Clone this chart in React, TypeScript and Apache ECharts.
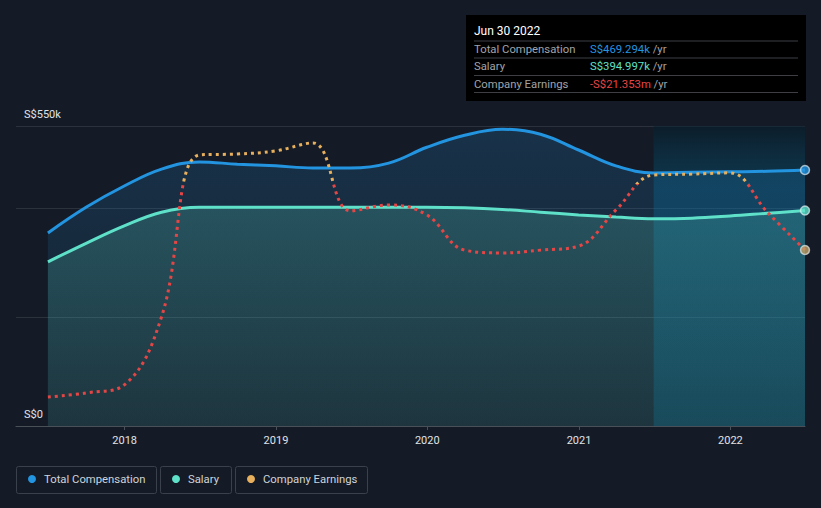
import React, { useEffect, useRef } from 'react';
import * as echarts from 'echarts';

const dates = ['2017-06-30','2017-09-30','2017-12-31','2018-03-31','2018-06-30','2018-09-30','2018-12-31','2019-03-31','2019-06-30','2019-09-30','2019-12-31','2020-03-31','2020-06-30','2020-09-30','2020-12-31','2021-03-31','2021-06-30','2021-09-30','2021-12-31','2022-03-31','2022-06-30'];
const totalComp = [354, 401, 440, 471, 484, 480, 477, 473, 473, 482, 511, 533, 544, 535, 506, 477, 464, 465, 466, 467, 469.294];
const salary = [301, 335, 367, 392, 401, 401, 401, 401, 401, 401, 401, 400, 397, 392, 387, 383, 380, 381, 385, 390, 394.997];
const earnings = [-68.9, -67.6, -65.0, -43.0, 9.4, 9.7, 10.7, 13.3, -8.7, -6.8, -10.0, -21.4, -22.3, -21.4, -20.1, -8.4, 2.9, 3.2, 3.6, -9.1, -21.353];
const yearTicks = [2018, 2019, 2020, 2021, 2022];
const yTickLabels: Record<number, string> = { 0: 'S$0', 550: 'S$550k' };
const legendNames = ['Total Compensation', 'Salary', 'Company Earnings'];
const tooltipDate = 'Jun 30 2022';
const tooltipRows = [
  { label: 'Total Compensation', value: 'S$469.294k' },
  { label: 'Salary', value: 'S$394.997k' },
  { label: 'Company Earnings', value: '-S$21.353m' },
];
const highlightStart = '2021-06-30';
const highlightEnd = '2022-06-30';

const BG = '#151b26';
const BLUE = '#2394e0';
const TEAL = '#5ee0c9';
const YELLOW = '#e8b05c';
const RED = '#e64545';
const FONT = 'Roboto, "Open Sans", sans-serif';

const ts = (d: string) => {
  const [y, m, dd] = d.split('-').map(Number);
  return Date.UTC(y, m - 1, dd);
};

export default function App() {
  const ref = useRef<HTMLDivElement>(null);
  useEffect(() => {
    document.body.style.margin = '0';
    document.body.style.background = BG;
    const chart = echarts.init(ref.current!, undefined, { renderer: 'svg' });
    const tcData = dates.map((d, i) => [ts(d), totalComp[i]]);
    const salData = dates.map((d, i) => [ts(d), salary[i]]);
    const earnData = dates.map((d, i) => [ts(d), earnings[i]]);
    const last = dates.length - 1;

    const legendColors = [BLUE, TEAL, YELLOW];
    const legendBoxes = [
      { x: 16, w: 140 },
      { x: 160, w: 71 },
      { x: 235, w: 132 },
    ];
    const TF = `11.3px ${FONT}`;
    const graphics: any[] = [];
    graphics.push({ type: 'rect', shape: { x: 466, y: 15, width: 340, height: 86 }, style: { fill: '#000' }, silent: true });
    graphics.push({ type: 'text', x: 474, y: 31, style: { text: tooltipDate, fill: '#fff', font: `12px ${FONT}`, verticalAlign: 'middle' } });
    const rowY = [49.5, 66.5, 84];
    const lineY = [41, 58, 75.5, 92.5];
    lineY.forEach((y) => graphics.push({ type: 'line', shape: { x1: 474, y1: y, x2: 798, y2: y }, style: { stroke: '#3d3f44', lineWidth: 1 } }));
    const valColors = [BLUE, TEAL, RED];
    tooltipRows.forEach((r, i) => {
      graphics.push({ type: 'text', x: 474, y: rowY[i], style: { text: r.label, fill: '#a0a4aa', font: TF, verticalAlign: 'middle' } });
      graphics.push({ type: 'text', x: 590, y: rowY[i], style: { rich: { v: { fill: valColors[i], font: TF }, u: { fill: '#a0a4aa', font: TF } }, text: `{v|${r.value}}{u| /yr}`, verticalAlign: 'middle' } });
    });
    legendNames.forEach((n, i) => {
      const b = legendBoxes[i];
      graphics.push({ type: 'rect', shape: { x: b.x + 0.5, y: 466.5, width: b.w, height: 27, r: 2 }, style: { fill: 'none', stroke: '#3b414c', lineWidth: 1 } });
      graphics.push({ type: 'circle', shape: { cx: b.x + 16, cy: 479, r: 4 }, style: { fill: legendColors[i] } });
      graphics.push({ type: 'text', x: b.x + 28, y: 479.5, style: { text: n, fill: '#cfd3d8', font: TF, verticalAlign: 'middle' } });
    });

    const SM = 0.4;
    const option: any = {
      animation: false,
      backgroundColor: BG,
      grid: { left: 16, right: 16, top: 126, height: 300 },
      xAxis: {
        type: 'value',
        min: ts('2017-04-14'),
        max: ts('2022-06-30'),
        axisLine: { show: true, lineStyle: { color: '#4a5058' } },
        axisTick: { show: true, length: 4, lineStyle: { color: '#4a5058' }, customValues: yearTicks.map((y) => Date.UTC(y, 0, 1)) },
        axisLabel: {
          color: '#e0e3e6', fontSize: 11, fontFamily: FONT, margin: 9,
          customValues: yearTicks.map((y) => Date.UTC(y, 0, 1)),
          formatter: (v: number) => String(new Date(v).getUTCFullYear()),
        },
        splitLine: { show: false },
      },
      yAxis: [
        {
          type: 'value', min: 0, max: 550, interval: 200,
          axisLine: { show: false }, axisTick: { show: false },
          splitLine: { show: true, lineStyle: { color: '#2b323c', width: 1 } },
          axisLabel: {
            inside: true, margin: 8, color: '#e0e3e6', fontSize: 11, fontFamily: FONT,
            verticalAlign: 'bottom', padding: [0, 0, 6, 0],
            formatter: (v: number) => yTickLabels[v] ?? '',
          },
        },
        { type: 'value', min: -78.3, max: 18.76, show: false, splitLine: { show: false } },
      ],
      visualMap: {
        type: 'piecewise', show: false, seriesIndex: 5, dimension: 1,
        pieces: [{ gt: -1000, lte: 0, color: RED }, { gt: 0, lte: 1000, color: YELLOW }],
      },
      series: [
        {
          type: 'line', name: 'tcArea', data: tcData, smooth: SM, symbol: 'none', z: 1,
          lineStyle: { width: 0, opacity: 0 },
          areaStyle: { color: new echarts.graphic.LinearGradient(0, 0, 0, 1, [
            { offset: 0, color: 'rgba(35,148,224,0.27)' }, { offset: 1, color: 'rgba(35,148,224,0.05)' }]) },
        },
        {
          type: 'line', name: 'salArea', data: salData, smooth: SM, symbol: 'none', z: 1,
          lineStyle: { width: 0, opacity: 0 },
          areaStyle: { color: new echarts.graphic.LinearGradient(0, 0, 0, 1, [
            { offset: 0, color: 'rgba(94,224,200,0.30)' }, { offset: 1, color: 'rgba(94,224,200,0.16)' }]) },
        },
        {
          type: 'line', name: 'highlight', data: tcData, symbol: 'none', z: 2, lineStyle: { opacity: 0, width: 0 },
          markArea: {
            silent: true,
            itemStyle: { color: new echarts.graphic.LinearGradient(0, 0, 0, 1, [
              { offset: 0, color: 'rgba(0,30,45,0.45)' },
              { offset: 0.2, color: 'rgba(0,115,160,0.3)' },
              { offset: 1, color: 'rgba(0,110,150,0.3)' }]) },
            data: [[{ xAxis: ts(highlightStart) }, { xAxis: ts(highlightEnd) }]],
          },
        },
        {
          type: 'line', name: legendNames[0], data: tcData, smooth: SM, symbol: 'none', z: 3,
          lineStyle: { color: BLUE, width: 3 },
        },
        {
          type: 'line', name: legendNames[1], data: salData, smooth: SM, symbol: 'none', z: 3,
          lineStyle: { color: TEAL, width: 3 },
        },
        {
          type: 'line', name: legendNames[2], data: earnData, yAxisIndex: 1, smooth: SM, symbol: 'none', z: 4,
          lineStyle: { width: 3, type: [3, 4] },
        },
        {
          type: 'scatter', data: [tcData[last], salData[last]], clip: false, z: 5, symbolSize: 9,
          itemStyle: { color: (p: any) => (p.dataIndex === 0 ? BLUE : TEAL), borderColor: 'rgba(230,240,245,0.85)', borderWidth: 1.5 },
        },
        {
          type: 'scatter', data: [earnData[last]], yAxisIndex: 1, clip: false, z: 5, symbolSize: 9,
          itemStyle: { color: '#bfa067', borderColor: 'rgba(230,240,245,0.85)', borderWidth: 1.5 },
        },
      ],
      graphic: graphics,
    };
    chart.setOption(option);
    return () => chart.dispose();
  }, []);
  return <div ref={ref} style={{ position: 'fixed', left: 0, top: 0, width: 821, height: 508 }} />;
}
